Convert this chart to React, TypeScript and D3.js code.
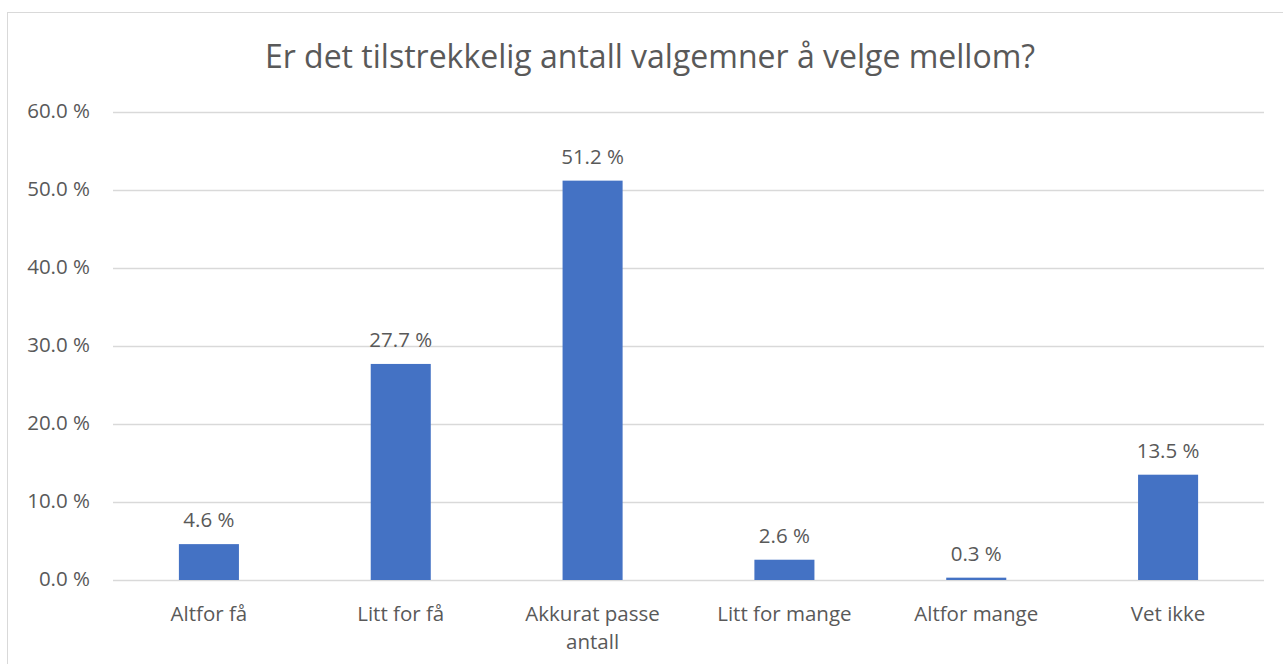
import React, {useEffect, useRef} from 'react';
import * as d3 from 'd3';

const categories = ['Altfor få', 'Litt for få', 'Akkurat passe antall', 'Litt for mange', 'Altfor mange', 'Vet ikke'];
const values = [4.6, 27.7, 51.2, 2.6, 0.3, 13.5];
const yTicks = [0, 10, 20, 30, 40, 50, 60];
const title = 'Er det tilstrekkelig antall valgemner å velge mellom?';

export default function App() {
  const svgRef = useRef<SVGSVGElement>(null);

  useEffect(() => {
    document.body.style.margin = '0';
    const width = 1283;
    const height = 664;
    const font = '"Open Sans", sans-serif';
    const textColor = '#595959';

    const svg = d3.select(svgRef.current);
    svg.selectAll('*').remove();

    // chart border (runs off right and bottom like the original)
    svg.append('rect')
      .attr('x', 7.5).attr('y', 12.5)
      .attr('width', width).attr('height', height)
      .attr('fill', 'white')
      .attr('stroke', '#d9d9d9');

    svg.append('text')
      .attr('x', 650).attr('y', 68)
      .attr('text-anchor', 'middle')
      .attr('font-family', font)
      .attr('font-size', 32)
      .attr('fill', textColor)
      .text(title);

    const x = d3.scaleBand().domain(categories).range([113, 1264]).paddingInner(0.687).paddingOuter(0.3435);
    const y = d3.scaleLinear().domain([0, 60]).range([580, 112]);

    // gridlines
    svg.append('g').selectAll('line').data(yTicks).enter().append('line')
      .attr('x1', 113).attr('x2', 1264)
      .attr('y1', (d) => y(d) + 0.5).attr('y2', (d) => y(d) + 0.5)
      .attr('stroke', '#d9d9d9').attr('stroke-width', 1.3);

    // y tick labels
    svg.append('g').selectAll('text').data(yTicks).enter().append('text')
      .attr('x', 90).attr('y', (d) => y(d) + 6)
      .attr('text-anchor', 'end')
      .attr('font-family', font).attr('font-size', 20.5)
      .attr('fill', textColor)
      .text((d) => d3.format('.1f')(d) + ' %');

    // bars
    svg.append('g').selectAll('rect').data(values).enter().append('rect')
      .attr('x', (d, i) => x(categories[i])!)
      .attr('width', x.bandwidth())
      .attr('y', (d) => y(d))
      .attr('height', (d) => y(0) - y(d))
      .attr('fill', '#4472C4');

    // value labels
    svg.append('g').selectAll('text').data(values).enter().append('text')
      .attr('x', (d, i) => x(categories[i])! + x.bandwidth() / 2)
      .attr('y', (d) => y(d) - 17)
      .attr('text-anchor', 'middle')
      .attr('font-family', font).attr('font-size', 20.5)
      .attr('fill', textColor)
      .text((d) => d3.format('.1f')(d) + ' %');

    // category labels, "Akkurat passe antall" wraps
    const cat = svg.append('g').selectAll('text').data(categories).enter().append('text')
      .attr('x', (d) => x(d)! + x.bandwidth() / 2)
      .attr('y', 621)
      .attr('text-anchor', 'middle')
      .attr('font-family', font).attr('font-size', 20.5)
      .attr('fill', textColor);
    cat.each(function (d) {
      const t = d3.select(this);
      const lines = d === 'Akkurat passe antall' ? ['Akkurat passe', 'antall'] : [d];
      lines.forEach((l, i) => {
        t.append('tspan')
          .attr('x', x(d)! + x.bandwidth() / 2)
          .attr('dy', i === 0 ? 0 : 28)
          .text(l);
      });
    });
  }, []);

  return <svg ref={svgRef} width={1283} height={664} style={{display: 'block'}}></svg>;
}
